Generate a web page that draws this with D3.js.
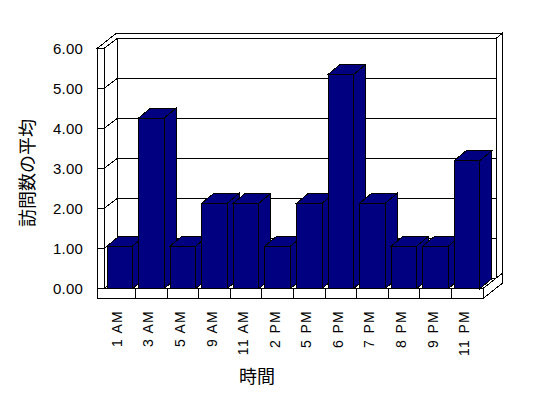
<!DOCTYPE html>
<html>
<head>
<meta charset="utf-8">
<script src="https://cdn.jsdelivr.net/npm/d3@7"></script>
<style>
  body { margin: 0; background: #fff; }
  svg { display: block; }
</style>
</head>
<body>
<svg id="chart"></svg>
<script>
// data
const categories = ['1 AM', '3 AM', '5 AM', '9 AM', '11 AM', '2 PM', '5 PM', '6 PM', '7 PM', '8 PM', '9 PM', '11 PM'];
const values = [1.06, 4.26, 1.06, 2.13, 2.13, 1.06, 2.13, 5.35, 2.13, 1.06, 1.06, 3.2];
const yTicks = [0, 1, 2, 3, 4, 5, 6];
const yTitle = '訪問数の平均';
const xTitle = '時間';

const width = 548;
const height = 398;

const svg = d3.select('#chart')
  .attr('width', width)
  .attr('height', height)
  .attr('shape-rendering', 'crispEdges');

// front plane geometry
const wallL = 97, plotL = 104, plotR = 483, floorB = 298.5;
const d1 = { x: 13, y: -10 };   // depth to inner face of back wall
const d2 = { x: 19, y: -15 };   // depth to outer face of back wall
const db = { x: 12, y: -10 };   // bar depth

const y = d3.scaleLinear().domain([0, 6]).range([288.5, 48.5]);
const x = d3.scaleBand().domain(categories).range([plotL, plotR])
  .paddingInner(0.19).paddingOuter(0.095);
const xb = d3.scaleBand().domain(categories).range([plotL, plotR]);

const y0 = y(0), y6 = y(6);
const pts = a => a.map(p => p.join(',')).join(' ');
const face = (g, p) => g.append('polygon').attr('points', pts(p))
  .attr('fill', '#fff').attr('stroke', '#000').attr('stroke-width', 1);

const frame = svg.append('g');

// back wall inner face
face(frame, [[plotL + d1.x, y6 + d1.y], [plotR + d1.x, y6 + d1.y], [plotR + d1.x, y0 + d1.y], [plotL + d1.x, y0 + d1.y]]);
frame.selectAll('line.grid')
  .data(yTicks.slice(1, -1))
  .enter().append('line')
  .attr('x1', plotL + d1.x).attr('x2', plotR + d1.x)
  .attr('y1', d => y(d) + d1.y).attr('y2', d => y(d) + d1.y)
  .attr('stroke', '#000');

// left wall inner face
face(frame, [[plotL, y6], [plotL + d1.x, y6 + d1.y], [plotL + d1.x, y0 + d1.y], [plotL, y0]]);
frame.selectAll('line.diag')
  .data(yTicks)
  .enter().append('line')
  .attr('x1', plotL).attr('x2', plotL + d1.x)
  .attr('y1', d => y(d)).attr('y2', d => y(d) + d1.y)
  .attr('stroke', '#000');

// floor top
face(frame, [[plotL, y0], [plotL + d1.x, y0 + d1.y], [plotR + d1.x, y0 + d1.y], [plotR, y0]]);

// top of the walls (L shape)
face(frame, [[wallL, y6], [wallL + d2.x, y6 + d2.y], [plotR + d2.x, y6 + d2.y],
  [plotR + d1.x, y6 + d1.y], [plotL + d1.x, y6 + d1.y], [plotL, y6]]);

// right end of back wall and floor
face(frame, [[plotR + d1.x, y6 + d1.y], [plotR + d2.x, y6 + d2.y], [plotR + d2.x, y0 + d2.y], [plotR + d1.x, y0 + d1.y]]);
face(frame, [[plotR, y0], [plotR + d2.x, y0 + d2.y], [plotR + d2.x, floorB + d2.y], [plotR, floorB]]);

// front faces of left wall and floor
face(frame, [[wallL, y6], [plotL, y6], [plotL, y0], [wallL, y0]]);
face(frame, [[wallL, y0], [plotR, y0], [plotR, floorB], [wallL, floorB]]);
frame.selectAll('line.ytick')
  .data(yTicks.slice(1, -1))
  .enter().append('line')
  .attr('x1', wallL).attr('x2', plotL)
  .attr('y1', d => y(d)).attr('y2', d => y(d))
  .attr('stroke', '#000');
frame.selectAll('line.xtick')
  .data(categories.slice(1))
  .enter().append('line')
  .attr('x1', d => xb(d)).attr('x2', d => xb(d))
  .attr('y1', y0).attr('y2', floorB)
  .attr('stroke', '#000');

// bars, drawn left to right so each front face covers the previous side
const bars = svg.append('g');
categories.forEach((c, i) => {
  const xa = x(c), xz = x(c) + x.bandwidth();
  const yt = y(values[i]);
  const g = bars.append('g').attr('fill', '#000080').attr('stroke', '#000');
  g.append('polygon').attr('points', pts([[xa, yt], [xa + db.x, yt + db.y], [xz + db.x, yt + db.y], [xz, yt]]));
  g.append('polygon').attr('points', pts([[xz, yt], [xz + db.x, yt + db.y], [xz + db.x, y0 + db.y], [xz, y0]]));
  g.append('rect').attr('x', xa).attr('y', yt).attr('width', xz - xa).attr('height', y0 - yt);
});

// y tick labels
svg.append('g').selectAll('text')
  .data(yTicks)
  .enter().append('text')
  .attr('x', 83).attr('y', d => y(d) + 5)
  .attr('text-anchor', 'end')
  .attr('font-family', 'Liberation Sans, Arial, sans-serif')
  .attr('font-size', 15)
  .attr('letter-spacing', 0.2)
  .text(d => d3.format('.2f')(d));

// category labels
svg.append('g').selectAll('text')
  .data(categories)
  .enter().append('text')
  .attr('transform', d => `translate(${xb(d) + xb.bandwidth() / 2 + 2},310) rotate(-90)`)
  .attr('text-anchor', 'end')
  .attr('font-family', 'Liberation Sans, Arial, sans-serif')
  .attr('font-size', 14)
  .attr('letter-spacing', 1.3)
  .text(d => d);

// axis titles
svg.append('text')
  .attr('transform', 'translate(34,173) rotate(-90)')
  .attr('text-anchor', 'middle')
  .attr('font-family', 'Noto Sans CJK JP, sans-serif')
  .attr('font-size', 18)
  .text(yTitle);

svg.append('text')
  .attr('x', 257).attr('y', 383)
  .attr('text-anchor', 'middle')
  .attr('font-family', 'Noto Sans CJK JP, sans-serif')
  .attr('font-size', 18)
  .text(xTitle);
</script>
</body>
</html>
